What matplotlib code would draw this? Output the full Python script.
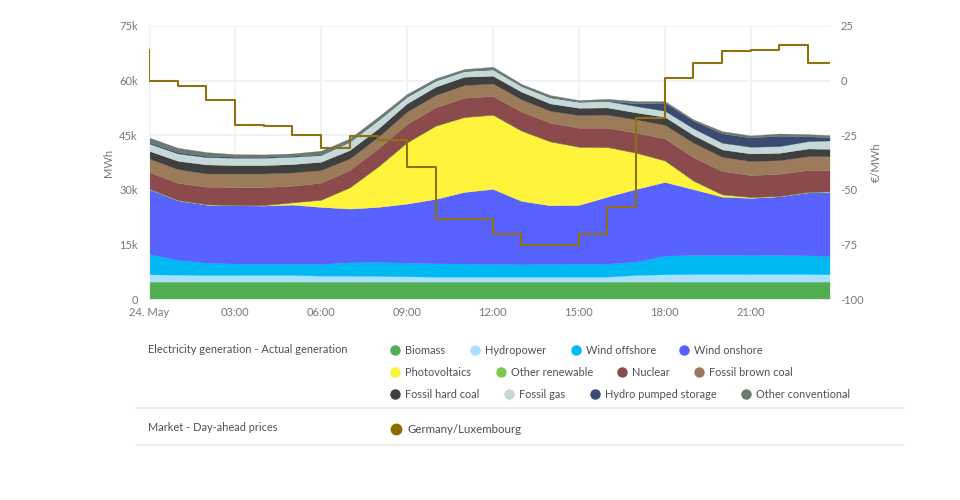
import matplotlib
matplotlib.use("Agg")
import matplotlib.pyplot as plt
from matplotlib.lines import Line2D

plt.rcParams['font.family'] = ['Lato', 'DejaVu Sans']

hours = list(range(24)) + [23.75]
biomass = [4850] * 25
hydropower = [2010,1920,1830,1830,1830,1830,1650,1650,1560,1460,1370,1370,1370,1370,1370,1370,1370,1830,2010,2100,2100,2100,2100,2100,2010]
wind_offshore = [5580,4030,3390,3110,3110,3110,3200,3660,3840,3750,3660,3570,3480,3390,3480,3570,3570,3660,5120,5220,5220,5310,5220,5120,5030]
wind_onshore = [17840,16380,15920,16010,15920,16200,15650,14730,15100,16200,17660,19670,20590,17385,16100,16100,18390,19950,20220,18030,16010,15560,16100,17290,17660]
photovoltaics = [0,0,0,0,90,550,1920,5760,11070,16740,20040,20500,20310,19220,17480,15920,13540,9880,5860,2290,550,180,0,0,0]
other_renewable = [90] * 25
nuclear = [4530,4710,4800,4900,4900,4530,4620,4710,4900,5000,5000,5260,5080,5170,5080,5170,5260,5440,5990,6360,6360,5990,6080,5990,5810]
brown_coal = [3750,3750,3660,3750,3750,3660,3480,3200,3200,3390,3390,3480,3480,3390,3290,3480,3570,3660,3750,4030,3930,3840,3750,3840,3840]
hard_coal = [2100,2290,2470,2290,2290,2290,2290,2290,2290,2290,2290,2290,2100,2100,2010,2010,2010,1920,2200,2100,2010,2100,2010,2100,2010]
fossil_gas = [2010,2010,2010,2010,2010,2010,1830,2290,2290,1830,1650,1560,1740,1560,1650,1650,1740,1740,1650,1830,1830,1830,1830,2010,2290]
pumped_storage = [370,370,370,270,270,270,180,180,180,180,180,90,90,90,90,90,90,730,2200,2100,2560,2560,2840,1370,820]
other_conventional = [1280,1190,1010,730,640,640,1010,730,730,550,460,460,640,460,550,370,550,640,460,370,640,550,640,550,640]

price_open = 14.0
price = [0,-2.4,-8.8,-20.1,-20.6,-24.8,-31,-25.1,-27.1,-39.3,-63.1,-63.1,-70.1,-75.1,-75.1,-70.1,-57.8,-17.1,1.4,7.9,13.7,14.2,16.2,7.9,7.9]

series_names = ["Biomass","Hydropower","Wind offshore","Wind onshore","Photovoltaics","Other renewable",
                "Nuclear","Fossil brown coal","Fossil hard coal","Fossil gas","Hydro pumped storage","Other conventional"]
series_colors = ["#50AE50","#A8E1FF","#00B9F3","#5762FF","#FFF33B","#7DC850",
                 "#8B4A4C","#9B7B5A","#3F3F3F","#C4D9D8","#3A4A73","#6C7A6C"]
yticks_left = [0,15000,30000,45000,60000,75000]
yticklabels_left = ["0","15k","30k","45k","60k","75k"]
yticks_right = [-100,-75,-50,-25,0,25]
xticks = [0,3,6,9,12,15,18,21]
xticklabels = ["24. May","03:00","06:00","09:00","12:00","15:00","18:00","21:00"]

GRID = "#EEF0F3"
TICK = "#777777"
TEXT = "#505050"
W, H = 960, 500
L, R, T, B = 149, 829.5, 26, 299.3

fig = plt.figure(figsize=(W/100, H/100), dpi=100, facecolor="white")
ax = fig.add_axes([L/W, 1-B/H, (R-L)/W, (B-T)/H])
ax.stackplot(hours, biomass, hydropower, wind_offshore, wind_onshore, photovoltaics, other_renewable,
             nuclear, brown_coal, hard_coal, fossil_gas, pumped_storage, other_conventional,
             colors=series_colors, linewidth=0.2, edgecolor="face", zorder=2)
ax.set_xlim(0, 23.75)
ax.set_ylim(0, 75000)
ax.set_xticks(xticks, xticklabels)
ax.set_yticks(yticks_left, yticklabels_left)
ax.grid(True, color=GRID, linewidth=1.2, zorder=0)
ax.set_axisbelow(True)
ax.tick_params(axis="both", length=0, labelsize=8, labelcolor=TICK)
ax.tick_params(axis="x", pad=5.5)
ax.tick_params(axis="y", pad=8)
for s in ("top", "right"):
    ax.spines[s].set_visible(False)
ax.spines["left"].set_color(GRID)
ax.spines["bottom"].set_color("#DDE5F2")
ax.set_ylabel("MWh", fontsize=8, color=TICK, labelpad=4)

ax2 = ax.twinx()
ax2.step([hours[0]] + hours, [price_open] + price, where="post", color="#8F7112", linewidth=1.5, zorder=5)
ax2.set_ylim(-100, 25)
ax2.set_yticks(yticks_right, [str(v) for v in yticks_right])
ax2.tick_params(axis="y", length=0, labelsize=8, labelcolor=TICK, pad=8)
for s in ax2.spines.values():
    s.set_visible(False)
ax2.set_ylabel("€/MWh", fontsize=8, color=TICK, labelpad=5)

# legend panel in pixel coordinates
ov = fig.add_axes([0, 0, 1, 1], facecolor="none")
ov.set_xlim(0, W)
ov.set_ylim(H, 0)
ov.axis("off")
legend_slots = [(395,350),(475,350),(576,350),(684,350),
                (395,372),(501,372),(622,372),(699,372),
                (395,394),(509,394),(595,394),(746,394)]
for (mx, my), name, col in zip(legend_slots, series_names, series_colors):
    ov.add_line(Line2D([mx], [my], marker="o", markersize=6.5, color=col, linestyle="none"))
    ov.text(mx + 10, my + 0.5, name, fontsize=7.9, color=TEXT, va="center", ha="left")
ov.add_line(Line2D([396], [429], marker="o", markersize=7.5, color="#8A6D00", linestyle="none"))
ov.text(407, 429.5, "Germany/Luxembourg", fontsize=8.3, color=TEXT, va="center", ha="left")
ov.text(148, 349.5, "Electricity generation - Actual generation", fontsize=7.9, color=TEXT, va="center", ha="left")
ov.text(148, 427.5, "Market - Day-ahead prices", fontsize=7.9, color=TEXT, va="center", ha="left")
for yy in (407.7, 444.5):
    ov.add_line(Line2D([136, 904], [yy, yy], color="#EBEBEB", linewidth=1.2))

fig.savefig("out.png", dpi=100, facecolor="white")
